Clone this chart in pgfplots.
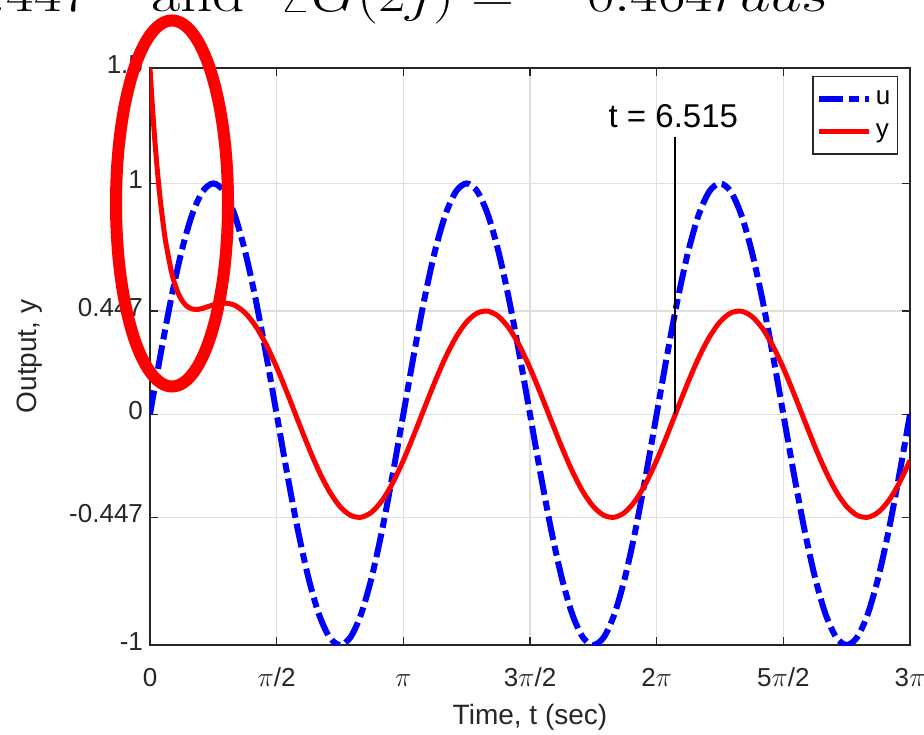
\documentclass[border=0pt]{standalone}
\usepackage{fontspec}
\setsansfont{Liberation Sans}
\usepackage{graphicx}
\usepackage{pgfplots}
\usepackage{pgfplotstable}
\pgfplotsset{compat=1.18}
\definecolor{axc}{RGB}{38,38,38}
\definecolor{gridc}{RGB}{223,223,223}
\newcommand\PI{\scalebox{1.15}{$\pi$}}

% input u = sin(2t)
\pgfplotstableread{
t u
0.0000 0
0.1309 0.2588
0.2618 0.5
0.3927 0.7071
0.5236 0.8660
0.6545 0.9659
0.7854 1
0.9163 0.9659
1.0472 0.8660
1.1781 0.7071
1.3090 0.5
1.4399 0.2588
1.5708 0
1.7017 -0.2588
1.8326 -0.5
1.9635 -0.7071
2.0944 -0.8660
2.2253 -0.9659
2.3562 -1
2.4871 -0.9659
2.6180 -0.8660
2.7489 -0.7071
2.8798 -0.5
3.0107 -0.2588
3.1416 0
3.2725 0.2588
3.4034 0.5
3.5343 0.7071
3.6652 0.8660
3.7961 0.9659
3.9270 1
4.0579 0.9659
4.1888 0.8660
4.3197 0.7071
4.4506 0.5
4.5815 0.2588
4.7124 0
4.8433 -0.2588
4.9742 -0.5
5.1051 -0.7071
5.2360 -0.8660
5.3669 -0.9659
5.4978 -1
5.6287 -0.9659
5.7596 -0.8660
5.8905 -0.7071
6.0214 -0.5
6.1523 -0.2588
6.2832 0
6.4141 0.2588
6.5450 0.5
6.6759 0.7071
6.8068 0.8660
6.9377 0.9659
7.0686 1
7.1995 0.9659
7.3304 0.8660
7.4613 0.7071
7.5922 0.5
7.7231 0.2588
7.8540 0
7.9849 -0.2588
8.1158 -0.5
8.2467 -0.7071
8.3776 -0.8660
8.5085 -0.9659
8.6394 -1
8.7703 -0.9659
8.9012 -0.8660
9.0321 -0.7071
9.1630 -0.5
9.2939 -0.2588
9.4248 0
}\inputdata

% output y
\pgfplotstableread{
t y
0.0000 1.5
0.0250 1.3585
0.0500 1.2327
0.0750 1.1214
0.1000 1.0230
0.1309 0.9174
0.1750 0.7935
0.2000 0.7355
0.2618 0.6234
0.3000 0.5728
0.3500 0.5239
0.3927 0.4948
0.4500 0.4700
0.5236 0.4558
0.6000 0.4545
0.6545 0.4586
0.7854 0.4735
0.9163 0.4817
1.0472 0.4722
1.1781 0.4396
1.3090 0.3823
1.4399 0.3021
1.5708 0.2032
1.7017 0.0916
1.8326 -0.0257
1.9635 -0.1407
2.0944 -0.2464
2.2253 -0.3346
2.3562 -0.4
2.4871 -0.4382
2.6180 -0.4464
2.7489 -0.4243
2.8798 -0.3732
3.0107 -0.2967
3.1416 -0.2
3.2725 -0.0897
3.4034 0.0268
3.5343 0.1414
3.6652 0.2464
3.7961 0.3346
3.9270 0.4
4.0579 0.4382
4.1888 0.4464
4.3197 0.4243
4.4506 0.3732
4.5815 0.2967
4.7124 0.2
4.8433 0.0897
4.9742 -0.0268
5.1051 -0.1414
5.2360 -0.2464
5.3669 -0.3346
5.4978 -0.4
5.6287 -0.4382
5.7596 -0.4464
5.8905 -0.4243
6.0214 -0.3732
6.1523 -0.2967
6.2832 -0.2
6.4141 -0.0897
6.5450 0.0268
6.6759 0.1414
6.8068 0.2464
6.9377 0.3346
7.0686 0.4
7.1995 0.4382
7.3304 0.4464
7.4613 0.4243
7.5922 0.3732
7.7231 0.2967
7.8540 0.2
7.9849 0.0897
8.1158 -0.0268
8.2467 -0.1414
8.3776 -0.2464
8.5085 -0.3346
8.6394 -0.4
8.7703 -0.4382
8.9012 -0.4464
9.0321 -0.4243
9.1630 -0.3732
9.2939 -0.2967
9.4248 -0.2
}\outputdata

\begin{document}
\begin{tikzpicture}
% the reference is a crop: only this window is kept
\useasboundingbox (-75pt,-44.5pt) rectangle (387pt,322.5pt);
\begin{axis}[
  at={(0pt,0pt)}, anchor=south west,
  scale only axis, width=380pt, height=288.5pt,
  xmin=0, xmax=9.4248, ymin=-1, ymax=1.5,
  xtick={0,1.5708,3.1416,4.7124,6.2832,7.8540,9.4248},
  xticklabels={0,\PI/2,\PI,3\PI/2,2\PI,5\PI/2,3\PI},
  ytick={-1,-0.447,0,0.447,1,1.5},
  yticklabels={-1,-0.447,0,0.447,1,1.5},
  grid=major, major grid style={gridc, line width=0.6pt},
  tick align=inside, tick pos=both, major tick length=4pt,
  axis line style={axc, line width=0.7pt},
  tick style={axc, line width=0.7pt},
  /pgf/number format/assume math mode=true,
  typeset ticklabels with strut,
  tick label style={font=\sffamily\fontsize{13}{13}\selectfont, text=axc},
  xticklabel style={yshift=-8pt},
  xlabel={Time, t (sec)}, ylabel={Output, y},
  label style={font=\sffamily\fontsize{14}{14}\selectfont, text=axc},
  xlabel style={at={(axis description cs:0.5,-0.125)}, anchor=center},
  ylabel style={at={(axis description cs:-0.158,0.5)}, anchor=center},
  legend style={at={(1,1)}, anchor=north east, xshift=-6pt, yshift=-4pt,
    draw=axc, line width=0.6pt, font=\sffamily\fontsize{13}{13}\selectfont,
    inner xsep=1.5pt, inner ysep=5pt, row sep=4pt},
  legend cell align=left,
  legend image code/.code={\draw[#1] (0pt,0pt) -- (25pt,0pt);},
]
\addplot[blue, line width=3pt, smooth, dash pattern=on 12pt off 3pt on 5pt off 3pt] table[x=t,y=u] {\inputdata};
\addlegendentry{u}
\addplot[red, line width=2.5pt, smooth] table[x=t,y=y] {\outputdata};
\addlegendentry{y}
\draw[black, line width=1pt] (axis cs:6.515,0) -- (axis cs:6.515,1.2);
\node[font=\sffamily\fontsize{16.5}{16.5}\selectfont] at (axis cs:6.49,1.29) {t = 6.515};
\coordinate (ec) at (axis cs:0.273,0.913);
\end{axis}
\draw[red, line width=6pt] (ec) ellipse (28pt and 91.5pt);
\node[anchor=base east, inner sep=0pt, font=\fontsize{26.5}{30}\selectfont] at (340pt,316.7pt)
  {\scalebox{1.2}[1]{$|G(2j)| = 0.447$\hspace{26pt}and\hspace{14pt}$\angle G(2j) = -\,0.464 rads$}};
\end{tikzpicture}
\end{document}
